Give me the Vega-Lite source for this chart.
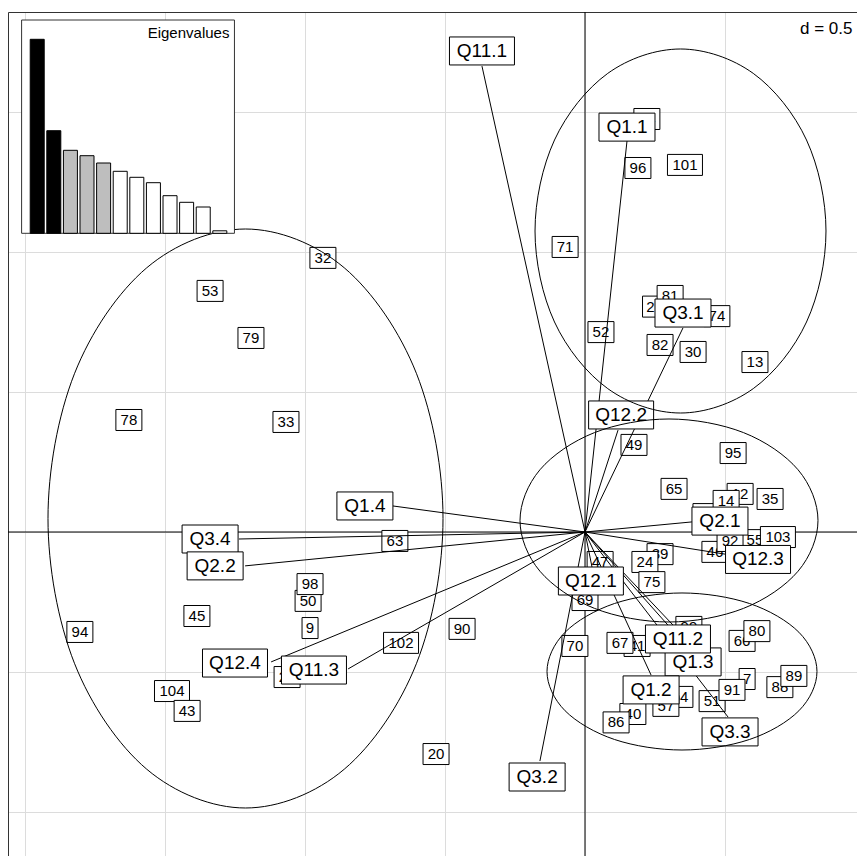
{
  "$schema": "https://vega.github.io/schema/vega-lite/v6.json",
  "width": 849,
  "height": 844,
  "autosize": {"type": "none"},
  "padding": {"left": 8, "top": 12, "right": 0, "bottom": 0},
  "background": "white",
  "config": {"view": {"stroke": null}, "text": {"font": "Liberation Sans"}},
  "datasets": {
    "ind": [
      {"label": "84", "x": 0.221, "y": 1.475},
      {"label": "96", "x": 0.189, "y": 1.300},
      {"label": "101", "x": 0.357, "y": 1.311},
      {"label": "71", "x": -0.071, "y": 1.018},
      {"label": "2", "x": 0.234, "y": 0.805},
      {"label": "81", "x": 0.304, "y": 0.843},
      {"label": "74", "x": 0.471, "y": 0.771},
      {"label": "52", "x": 0.057, "y": 0.714},
      {"label": "82", "x": 0.268, "y": 0.668},
      {"label": "30", "x": 0.386, "y": 0.643},
      {"label": "13", "x": 0.607, "y": 0.607},
      {"label": "49", "x": 0.175, "y": 0.311},
      {"label": "95", "x": 0.529, "y": 0.282},
      {"label": "65", "x": 0.318, "y": 0.154},
      {"label": "12", "x": 0.554, "y": 0.136},
      {"label": "14", "x": 0.504, "y": 0.111},
      {"label": "37", "x": 0.432, "y": 0.064},
      {"label": "35", "x": 0.661, "y": 0.118},
      {"label": "55", "x": 0.607, "y": -0.029},
      {"label": "103", "x": 0.689, "y": -0.018},
      {"label": "92", "x": 0.518, "y": -0.032},
      {"label": "46", "x": 0.464, "y": -0.071},
      {"label": "39", "x": 0.268, "y": -0.079},
      {"label": "24", "x": 0.214, "y": -0.107},
      {"label": "75", "x": 0.239, "y": -0.179},
      {"label": "47", "x": 0.054, "y": -0.107},
      {"label": "69", "x": 0.0, "y": -0.243},
      {"label": "70", "x": -0.036, "y": -0.407},
      {"label": "67", "x": 0.125, "y": -0.396},
      {"label": "41", "x": 0.186, "y": -0.407},
      {"label": "99", "x": 0.371, "y": -0.339},
      {"label": "66", "x": 0.561, "y": -0.389},
      {"label": "80", "x": 0.614, "y": -0.354},
      {"label": "7", "x": 0.579, "y": -0.525},
      {"label": "91", "x": 0.525, "y": -0.564},
      {"label": "88", "x": 0.696, "y": -0.554},
      {"label": "89", "x": 0.746, "y": -0.514},
      {"label": "51", "x": 0.454, "y": -0.604},
      {"label": "64", "x": 0.339, "y": -0.589},
      {"label": "57", "x": 0.289, "y": -0.621},
      {"label": "40", "x": 0.171, "y": -0.650},
      {"label": "86", "x": 0.111, "y": -0.680},
      {"label": "32", "x": -0.936, "y": 0.979},
      {"label": "53", "x": -1.339, "y": 0.861},
      {"label": "79", "x": -1.193, "y": 0.693},
      {"label": "78", "x": -1.629, "y": 0.400},
      {"label": "33", "x": -1.068, "y": 0.393},
      {"label": "63", "x": -0.679, "y": -0.032},
      {"label": "98", "x": -0.982, "y": -0.186},
      {"label": "50", "x": -0.989, "y": -0.246},
      {"label": "45", "x": -1.386, "y": -0.300},
      {"label": "9", "x": -0.982, "y": -0.343},
      {"label": "94", "x": -1.804, "y": -0.357},
      {"label": "102", "x": -0.657, "y": -0.396},
      {"label": "90", "x": -0.439, "y": -0.346},
      {"label": "25", "x": -1.064, "y": -0.518},
      {"label": "104", "x": -1.475, "y": -0.568},
      {"label": "43", "x": -1.421, "y": -0.639},
      {"label": "20", "x": -0.532, "y": -0.793}
    ],
    "mod": [
      {"label": "Q11.1", "x": -0.368, "y": 1.718, "tx": -0.368, "ty": 1.664},
      {"label": "Q1.1", "x": 0.150, "y": 1.446, "tx": 0.150, "ty": 1.396},
      {"label": "Q3.1", "x": 0.350, "y": 0.782, "tx": 0.350, "ty": 0.729},
      {"label": "Q12.2", "x": 0.129, "y": 0.418, "tx": 0.118, "ty": 0.364},
      {"label": "Q1.4", "x": -0.786, "y": 0.093, "tx": -0.686, "ty": 0.093},
      {"label": "Q3.4", "x": -1.339, "y": -0.025, "tx": -1.236, "ty": -0.025},
      {"label": "Q2.2", "x": -1.321, "y": -0.121, "tx": -1.214, "ty": -0.121},
      {"label": "Q12.4", "x": -1.250, "y": -0.468, "tx": -1.121, "ty": -0.464},
      {"label": "Q11.3", "x": -0.968, "y": -0.493, "tx": -0.846, "ty": -0.489},
      {"label": "Q3.2", "x": -0.171, "y": -0.875, "tx": -0.161, "ty": -0.818},
      {"label": "Q12.1", "x": 0.021, "y": -0.175, "tx": 0.025, "ty": -0.125},
      {"label": "Q2.1", "x": 0.482, "y": 0.039, "tx": 0.382, "ty": 0.036},
      {"label": "Q12.3", "x": 0.618, "y": -0.098, "tx": 0.500, "ty": -0.079},
      {"label": "Q1.3", "x": 0.386, "y": -0.464, "tx": 0.375, "ty": -0.421},
      {"label": "Q11.2", "x": 0.332, "y": -0.382, "tx": 0.314, "ty": -0.332},
      {"label": "Q1.2", "x": 0.236, "y": -0.564, "tx": 0.236, "ty": -0.511},
      {"label": "Q3.3", "x": 0.518, "y": -0.714, "tx": 0.511, "ty": -0.661}
    ],
    "ell": [
      {"g": "A", "i": 0, "x": -0.5071, "y": 0.0482},
      {"g": "A", "i": 1, "x": -0.6016, "y": 0.5652},
      {"g": "A", "i": 2, "x": -0.8598, "y": 0.9436},
      {"g": "A", "i": 3, "x": -1.2125, "y": 1.0821},
      {"g": "A", "i": 4, "x": -1.5652, "y": 0.9436},
      {"g": "A", "i": 5, "x": -1.8234, "y": 0.5652},
      {"g": "A", "i": 6, "x": -1.9179, "y": 0.0482},
      {"g": "A", "i": 7, "x": -1.8234, "y": -0.4688},
      {"g": "A", "i": 8, "x": -1.5652, "y": -0.8472},
      {"g": "A", "i": 9, "x": -1.2125, "y": -0.9857},
      {"g": "A", "i": 10, "x": -0.8598, "y": -0.8472},
      {"g": "A", "i": 11, "x": -0.6016, "y": -0.4688},
      {"g": "B", "i": 0, "x": 0.8607, "y": 1.075},
      {"g": "B", "i": 1, "x": 0.7911, "y": 1.4},
      {"g": "B", "i": 2, "x": 0.6009, "y": 1.6379},
      {"g": "B", "i": 3, "x": 0.3411, "y": 1.725},
      {"g": "B", "i": 4, "x": 0.0813, "y": 1.6379},
      {"g": "B", "i": 5, "x": -0.1089, "y": 1.4},
      {"g": "B", "i": 6, "x": -0.1785, "y": 1.075},
      {"g": "B", "i": 7, "x": -0.1089, "y": 0.75},
      {"g": "B", "i": 8, "x": 0.0813, "y": 0.5121},
      {"g": "B", "i": 9, "x": 0.3411, "y": 0.425},
      {"g": "B", "i": 10, "x": 0.6009, "y": 0.5121},
      {"g": "B", "i": 11, "x": 0.7911, "y": 0.75},
      {"g": "C", "i": 0, "x": 0.8321, "y": 0.0411},
      {"g": "C", "i": 1, "x": 0.7608, "y": 0.2224},
      {"g": "C", "i": 2, "x": 0.5661, "y": 0.355},
      {"g": "C", "i": 3, "x": 0.3, "y": 0.4036},
      {"g": "C", "i": 4, "x": 0.0339, "y": 0.355},
      {"g": "C", "i": 5, "x": -0.1608, "y": 0.2224},
      {"g": "C", "i": 6, "x": -0.2321, "y": 0.0411},
      {"g": "C", "i": 7, "x": -0.1608, "y": -0.1402},
      {"g": "C", "i": 8, "x": 0.0339, "y": -0.2728},
      {"g": "C", "i": 9, "x": 0.3, "y": -0.3214},
      {"g": "C", "i": 10, "x": 0.5661, "y": -0.2728},
      {"g": "C", "i": 11, "x": 0.7608, "y": -0.1402},
      {"g": "D", "i": 0, "x": 0.8285, "y": -0.4982},
      {"g": "D", "i": 1, "x": 0.7639, "y": -0.358},
      {"g": "D", "i": 2, "x": 0.5875, "y": -0.2554},
      {"g": "D", "i": 3, "x": 0.3464, "y": -0.2178},
      {"g": "D", "i": 4, "x": 0.1053, "y": -0.2554},
      {"g": "D", "i": 5, "x": -0.0711, "y": -0.358},
      {"g": "D", "i": 6, "x": -0.1357, "y": -0.4982},
      {"g": "D", "i": 7, "x": -0.0711, "y": -0.6384},
      {"g": "D", "i": 8, "x": 0.1053, "y": -0.741},
      {"g": "D", "i": 9, "x": 0.3464, "y": -0.7786},
      {"g": "D", "i": 10, "x": 0.5875, "y": -0.741},
      {"g": "D", "i": 11, "x": 0.7639, "y": -0.6384}
    ],
    "eig": [
      {"k": 1, "v": 1.94},
      {"k": 2, "v": 1.026},
      {"k": 3, "v": 0.83},
      {"k": 4, "v": 0.776},
      {"k": 5, "v": 0.703},
      {"k": 6, "v": 0.62},
      {"k": 7, "v": 0.56},
      {"k": 8, "v": 0.506},
      {"k": 9, "v": 0.376},
      {"k": 10, "v": 0.31},
      {"k": 11, "v": 0.263},
      {"k": 12, "v": 0.025}
    ]
  },
  "layer": [
    {
      "layer": [
        {
          "data": {"values": [{}]},
          "mark": {"type": "rule", "color": "black", "strokeWidth": 1},
          "encoding": {
            "x": {"datum": 0, "type": "quantitative",
              "scale": {"domain": [-2.06071, 0.97143], "nice": false, "zero": false},
              "axis": {"orient": "top", "values": [-2, -1.5, -1, -0.5, 0, 0.5], "grid": true, "gridColor": "#dcdcdc", "gridWidth": 1, "labels": false, "ticks": false, "domain": true, "domainColor": "#333333", "domainWidth": 1, "title": null}}
          }
        },
        {
          "data": {"values": [{}]},
          "mark": {"type": "rule", "color": "black", "strokeWidth": 1},
          "encoding": {
            "y": {"datum": 0, "type": "quantitative",
              "scale": {"domain": [-1.15714, 1.85714], "nice": false, "zero": false},
              "axis": {"orient": "left", "values": [-1, -0.5, 0, 0.5, 1, 1.5], "grid": true, "gridColor": "#dcdcdc", "gridWidth": 1, "labels": false, "ticks": false, "domain": true, "domainColor": "#333333", "domainWidth": 1, "title": null}}
          }
        },
        {
          "data": {"name": "ind"},
          "transform": [{"filter": {"field": "label", "oneOf": ["12", "37", "39", "55", "7", "88", "66", "41", "51", "40", "50", "104", "46"]}}],
          "encoding": {
            "x": {"field": "x", "type": "quantitative", "scale": {"domain": [-2.06071, 0.97143], "nice": false, "zero": false}},
            "y": {"field": "y", "type": "quantitative", "scale": {"domain": [-1.15714, 1.85714], "nice": false, "zero": false}}
          },
          "layer": [
            {"transform": [{"filter": "length(datum.label) == 1"}], "mark": {"type": "point", "shape": "M-8,-10.5H8V10.5H-8Z", "size": 4, "filled": true, "fill": "white", "stroke": "black", "strokeWidth": 1, "opacity": 1}},
            {"transform": [{"filter": "length(datum.label) == 2"}], "mark": {"type": "point", "shape": "M-13,-10.5H13V10.5H-13Z", "size": 4, "filled": true, "fill": "white", "stroke": "black", "strokeWidth": 1, "opacity": 1}},
            {"transform": [{"filter": "length(datum.label) == 3"}], "mark": {"type": "point", "shape": "M-17.5,-10.5H17.5V10.5H-17.5Z", "size": 4, "filled": true, "fill": "white", "stroke": "black", "strokeWidth": 1, "opacity": 1}},
            {"mark": {"type": "text", "fontSize": 15, "font": "Liberation Sans", "color": "black"}, "encoding": {"text": {"field": "label", "type": "nominal"}}}
          ]
        },
        {
          "data": {"name": "ind"},
          "transform": [{"filter": {"not": {"field": "label", "oneOf": ["12", "37", "39", "55", "7", "88", "66", "41", "51", "40", "50", "104", "46"]}}}],
          "encoding": {
            "x": {"field": "x", "type": "quantitative", "scale": {"domain": [-2.06071, 0.97143], "nice": false, "zero": false}},
            "y": {"field": "y", "type": "quantitative", "scale": {"domain": [-1.15714, 1.85714], "nice": false, "zero": false}}
          },
          "layer": [
            {"transform": [{"filter": "length(datum.label) == 1"}], "mark": {"type": "point", "shape": "M-8,-10.5H8V10.5H-8Z", "size": 4, "filled": true, "fill": "white", "stroke": "black", "strokeWidth": 1, "opacity": 1}},
            {"transform": [{"filter": "length(datum.label) == 2"}], "mark": {"type": "point", "shape": "M-13,-10.5H13V10.5H-13Z", "size": 4, "filled": true, "fill": "white", "stroke": "black", "strokeWidth": 1, "opacity": 1}},
            {"transform": [{"filter": "length(datum.label) == 3"}], "mark": {"type": "point", "shape": "M-17.5,-10.5H17.5V10.5H-17.5Z", "size": 4, "filled": true, "fill": "white", "stroke": "black", "strokeWidth": 1, "opacity": 1}},
            {"mark": {"type": "text", "fontSize": 15, "font": "Liberation Sans", "color": "black"}, "encoding": {"text": {"field": "label", "type": "nominal"}}}
          ]
        },
        {
          "data": {"name": "mod"},
          "mark": {"type": "rule", "color": "black", "strokeWidth": 1},
          "encoding": {
            "x": {"field": "tx", "type": "quantitative", "scale": {"domain": [-2.06071, 0.97143], "nice": false, "zero": false}},
            "y": {"field": "ty", "type": "quantitative", "scale": {"domain": [-1.15714, 1.85714], "nice": false, "zero": false}},
            "x2": {"datum": 0},
            "y2": {"datum": 0}
          }
        },
        {
          "data": {"name": "mod"},
          "encoding": {
            "x": {"field": "x", "type": "quantitative", "scale": {"domain": [-2.06071, 0.97143], "nice": false, "zero": false}},
            "y": {"field": "y", "type": "quantitative", "scale": {"domain": [-1.15714, 1.85714], "nice": false, "zero": false}}
          },
          "layer": [
            {"transform": [{"filter": "length(datum.label) == 4"}], "mark": {"type": "point", "shape": "M-28,-14H28V14H-28Z", "size": 4, "filled": true, "fill": "white", "stroke": "black", "strokeWidth": 1, "opacity": 1}},
            {"transform": [{"filter": "length(datum.label) == 5"}], "mark": {"type": "point", "shape": "M-32.5,-14H32.5V14H-32.5Z", "size": 4, "filled": true, "fill": "white", "stroke": "black", "strokeWidth": 1, "opacity": 1}},
            {"mark": {"type": "text", "fontSize": 19, "font": "Liberation Sans", "color": "black"}, "encoding": {"text": {"field": "label", "type": "nominal"}}}
          ]
        },
        {
          "data": {"name": "ell"},
          "mark": {"type": "line", "interpolate": "cardinal-closed", "color": "black", "strokeWidth": 1},
          "encoding": {
            "x": {"field": "x", "type": "quantitative", "scale": {"domain": [-2.06071, 0.97143], "nice": false, "zero": false}},
            "y": {"field": "y", "type": "quantitative", "scale": {"domain": [-1.15714, 1.85714], "nice": false, "zero": false}},
            "detail": {"field": "g", "type": "nominal"},
            "order": {"field": "i", "type": "quantitative"}
          }
        },
        {
          "data": {"values": [{"t": "d = 0.5"}]},
          "mark": {"type": "text", "align": "left", "baseline": "middle", "fontSize": 17, "font": "Liberation Sans", "color": "black"},
          "encoding": {
            "x": {"datum": 0.768, "type": "quantitative", "scale": {"domain": [-2.06071, 0.97143], "nice": false, "zero": false}},
            "y": {"datum": 1.796, "type": "quantitative", "scale": {"domain": [-1.15714, 1.85714], "nice": false, "zero": false}},
            "text": {"field": "t", "type": "nominal"}
          }
        }
      ]
    },
    {
      "layer": [
        {
          "data": {"values": [{}]},
          "mark": {"type": "rect", "fill": "white", "stroke": "#333333", "strokeWidth": 1},
          "encoding": {
            "x": {"datum": 0.06, "type": "quantitative", "scale": {"domain": [-0.458, 50.078], "nice": false, "zero": false}, "axis": null},
            "x2": {"datum": 12.88},
            "y": {"datum": 0, "type": "quantitative", "scale": {"domain": [-6.227, 2.213], "nice": false, "zero": false}, "axis": null},
            "y2": {"datum": 2.133}
          }
        },
        {
          "data": {"name": "eig"},
          "mark": {"type": "bar", "width": 14, "stroke": "black", "strokeWidth": 1},
          "encoding": {
            "x": {"field": "k", "type": "quantitative", "scale": {"domain": [-0.458, 50.078], "nice": false, "zero": false}, "axis": null},
            "y": {"field": "v", "type": "quantitative", "scale": {"domain": [-6.227, 2.213], "nice": false, "zero": false}, "axis": null},
            "y2": {"datum": 0},
            "fill": {"condition": [{"test": "datum.k <= 2", "value": "black"}, {"test": "datum.k <= 5", "value": "#bebebe"}], "value": "white"}
          }
        },
        {
          "data": {"values": [{"t": "Eigenvalues"}]},
          "mark": {"type": "text", "align": "right", "baseline": "middle", "fontSize": 15, "font": "Liberation Sans", "color": "black"},
          "encoding": {
            "x": {"datum": 12.578, "type": "quantitative", "scale": {"domain": [-0.458, 50.078], "nice": false, "zero": false}, "axis": null},
            "y": {"datum": 2.003, "type": "quantitative", "scale": {"domain": [-6.227, 2.213], "nice": false, "zero": false}, "axis": null},
            "text": {"field": "t", "type": "nominal"}
          }
        }
      ]
    }
  ],
  "resolve": {"scale": {"x": "independent", "y": "independent"}}
}
